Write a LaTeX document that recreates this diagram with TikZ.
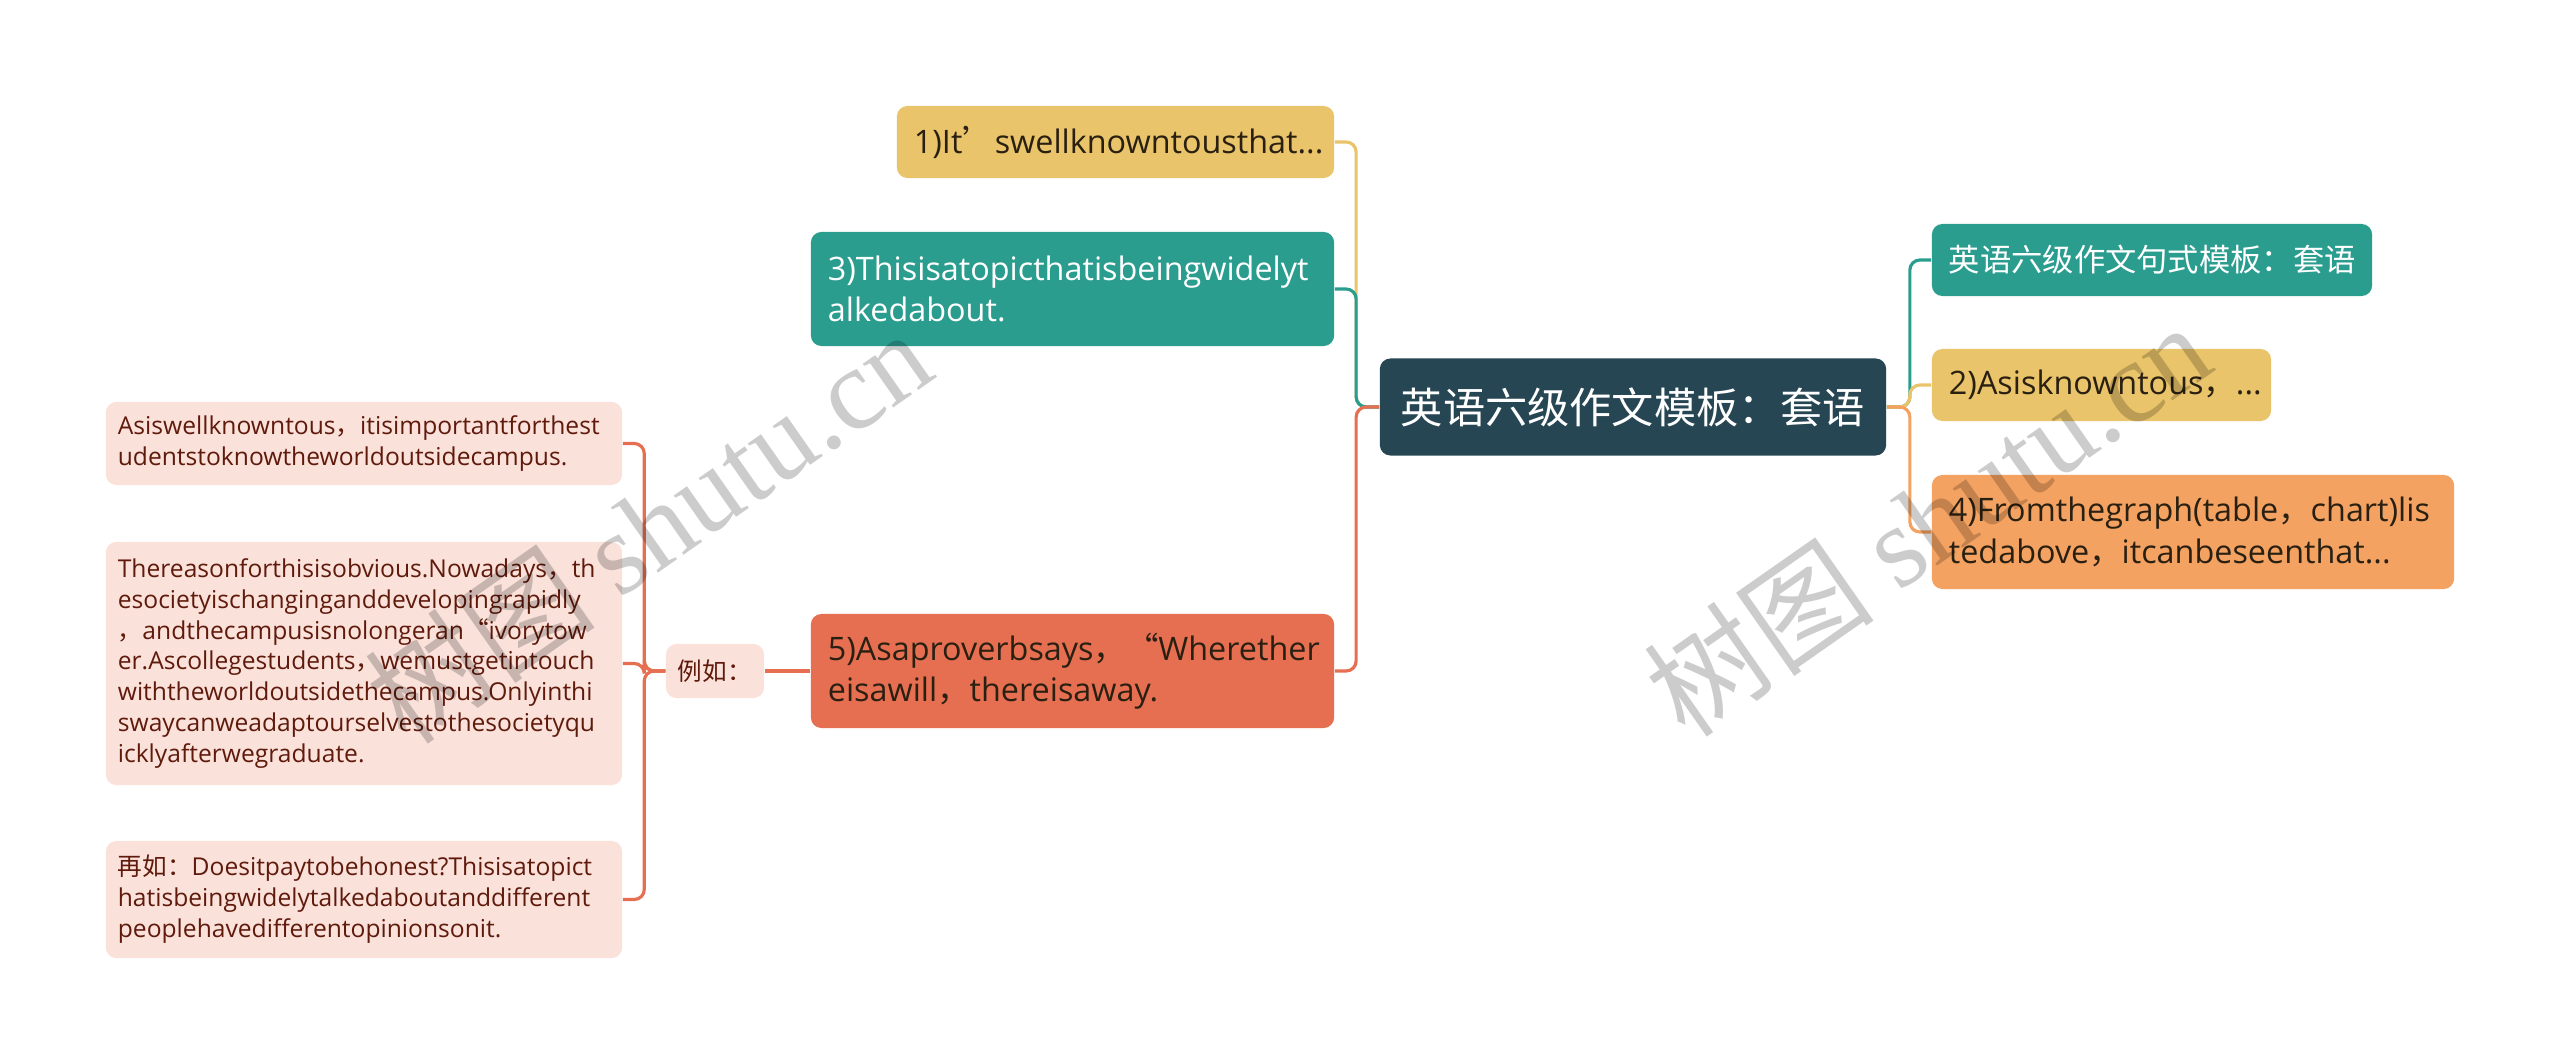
\documentclass[tikz,border=0pt]{standalone}
\usepackage{fontspec}
\usepackage{xcolor}
\usetikzlibrary{positioning}
\setmainfont{Open Sans}
\newfontfamily\cjk{Noto Sans CJK SC}
\newfontfamily\wmserif{Liberation Serif}
\newcommand{\zh}[1]{{\cjk #1}}
\definecolor{mapdark}{RGB}{38, 70, 83}
\definecolor{mapteal}{RGB}{42, 157, 143}
\definecolor{mapyellow}{RGB}{233, 196, 106}
\definecolor{maporange}{RGB}{244, 162, 97}
\definecolor{mapred}{RGB}{231, 111, 81}
\definecolor{mapleaf}{RGB}{250, 226, 219}
\definecolor{mapleaftext}{RGB}{96, 26, 12}
\definecolor{mapink}{RGB}{42, 32, 18}

\begin{document}
\begin{tikzpicture}[
    x=0.01cm, y=-0.01cm,
    root/.style={
        rectangle,
        rounded corners=3pt,
        fill=mapdark,
        text=white,
        inner xsep=0.2cm,
        text width=4.66cm,
        minimum height=0.97cm,
        align=center,
        font=\cjk\fontsize{12}{14}\selectfont
    },
    topic/.style={
        rectangle,
        rounded corners=3pt,
        inner xsep=0.17cm,
        inner ysep=0.05cm,
        align=left,
        text=mapink,
        font=\fontsize{9.2}{11.7}\selectfont
    },
    leaf/.style={
        rectangle,
        rounded corners=3pt,
        fill=mapleaf,
        text=mapleaftext,
        inner xsep=0.12cm,
        inner ysep=0.05cm,
        text width=4.92cm,
        align=left,
        font=\fontsize{7}{8.8}\selectfont
    },
    link/.style={
        line width=0.9pt,
        rounded corners=0.1cm
    },
    watermark/.style={
        text=black,
        text opacity=0.2,
        rotate=35,
        font=\fontsize{33}{33}\selectfont
    }
]

% Background
\useasboundingbox (0,0) rectangle (2560,1064);
\fill[white] (0,0) rectangle (2560,1064);

% Central topic
\node[root] (main) at (1633,407) {英语六级作文模板：套语};

% Left branches
\node[topic, fill=mapyellow, text width=4.03cm, minimum height=0.72cm] (it) at (1115.5,142) {1)It\zh{’}swellknowntousthat...};
\node[topic, fill=mapteal, text=white, text width=4.89cm, minimum height=1.14cm] (topic) at (1072.5,289) {3)Thisisatopicthatisbeingwidelyt\\alkedabout.};
\node[topic, fill=mapred, text width=4.89cm, minimum height=1.14cm] (proverb) at (1072.5,671) {5)Asaproverbsays\zh{，“}Wherether\\eisawill\zh{，}thereisaway.};

% Examples
\node[leaf, text width=0.74cm, minimum height=0.54cm, font=\cjk\fontsize{7}{8.8}\selectfont] (eg) at (715,671) {例如：};
\node[leaf, minimum height=0.83cm] (campus) at (364,443.5) {Asiswellknowntous\zh{，}itisimportantforthest\\udentstoknowtheworldoutsidecampus.};
\node[leaf, minimum height=2.43cm] (reason) at (364,663.5) {Thereasonforthisisobvious.Nowadays\zh{，}th\\esocietyischanginganddevelopingrapidly\\\zh{，}andthecampusisnolongeran\zh{“}ivorytow\\er.Ascollegestudents\zh{，}wemustgetintouch\\withtheworldoutsidethecampus.Onlyinthi\\swaycanweadaptourselvestothesocietyqu\\icklyafterwegraduate.};
\node[leaf, minimum height=1.17cm] (honest) at (364,899.5) {\zh{再如：}Doesitpaytobehonest?Thisisatopict\\hatisbeingwidelytalkedaboutanddifferent\\peoplehavedifferentopinionsonit.};

% Right branches
\node[topic, fill=mapteal, text=white, text width=4.06cm, minimum height=0.72cm, font=\cjk\fontsize{8.9}{11}\selectfont] (pattern) at (2152,260) {英语六级作文句式模板：套语};
\node[topic, fill=mapyellow, text width=3.05cm, minimum height=0.72cm] (known) at (2101.5,385) {2)Asisknowntous\zh{，}...};
\node[topic, fill=maporange, text width=4.88cm, minimum height=1.14cm] (graph) at (2193,532) {4)Fromthegraph(table\zh{，}chart)lis\\tedabove\zh{，}itcanbeseenthat...};

% Connections
\draw[link, mapyellow] (main.west) -- ++(-23,0) |- (it.east);
\draw[link, mapteal] (main.west) -- ++(-23,0) |- (topic.east);
\draw[link, mapred] (main.west) -- ++(-23,0) |- (proverb.east);
\draw[link, mapred] (eg.east) -- (proverb.west);
\draw[link, mapred] (eg.west) -- ++(-21,0) |- (campus.east);
\draw[link, mapred] (eg.west) -- ++(-21,0) |- (reason.east);
\draw[link, mapred] (eg.west) -- ++(-21,0) |- (honest.east);
\draw[link, mapteal] (main.east) -- ++(23,0) |- (pattern.west);
\draw[link, mapyellow] (main.east) -- ++(23,0) |- (known.west);
\draw[link, maporange] (main.east) -- ++(23,0) |- (graph.west);

% Watermarks
\node[watermark] (mark1) at (648,526) {\cjk 树图 \wmserif shutu.cn};
\node[watermark] (mark2) at (1927,519) {\cjk 树图 \wmserif shutu.cn};

\end{tikzpicture}
\end{document}
